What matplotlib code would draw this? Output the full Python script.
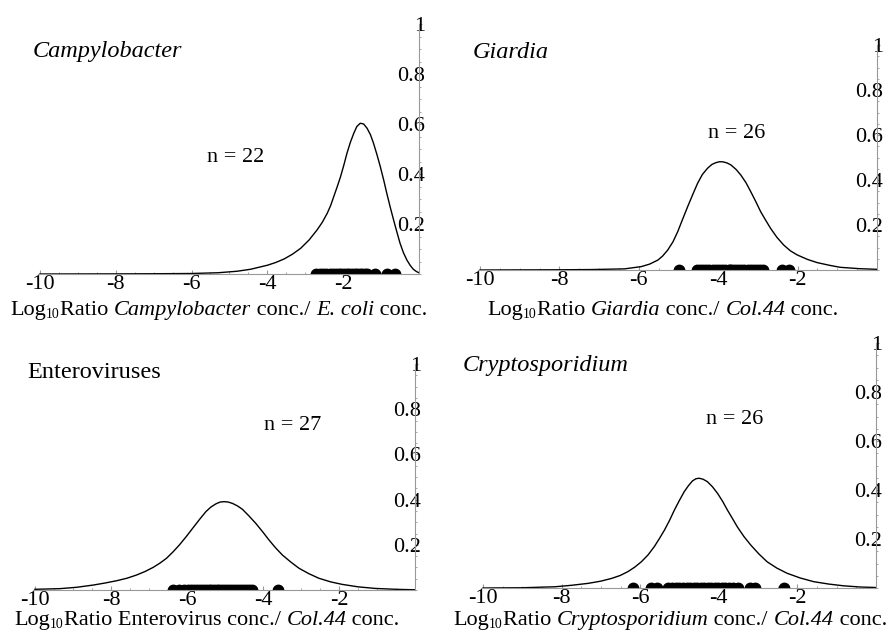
import matplotlib
matplotlib.use("Agg")
import matplotlib.pyplot as plt
from matplotlib.ticker import MultipleLocator

plt.rcParams["font.family"] = "Liberation Serif"

# fitted densities (log10 ratio vs density) and the observed ratios
campy_x = [-10, -8, -7, -6, -5.3, -4.8, -4.44, -4.0, -3.78, -3.56, -3.34, -3.12, -2.9, -2.69, -2.55,
           -2.42, -2.33, -2.25, -2.16, -2.07, -1.98, -1.90, -1.81, -1.72, -1.64, -1.55, -1.46, -1.37,
           -1.28, -1.20, -1.11, -1.02, -0.93, -0.85, -0.76, -0.67, -0.58, -0.50, -0.41, -0.32, -0.23,
           -0.15, -0.07, 0]
campy_y = [0.0, 0.0005, 0.001, 0.002, 0.005, 0.011, 0.019, 0.035, 0.046, 0.060, 0.079, 0.103, 0.136,
           0.176, 0.207, 0.243, 0.274, 0.309, 0.348, 0.389, 0.437, 0.483, 0.527, 0.563, 0.590, 0.603,
           0.600, 0.583, 0.557, 0.523, 0.478, 0.429, 0.375, 0.323, 0.268, 0.216, 0.166, 0.123, 0.085,
           0.056, 0.034, 0.019, 0.010, 0.005]
campy_obs = [-2.73, -2.62, -2.52, -2.44, -2.36, -2.28, -2.2, -2.12, -2.05, -1.98, -1.91,
             -1.84, -1.77, -1.7, -1.63, -1.56, -1.5, -1.43, -1.37, -1.15, -0.84, -0.63]

giard_x = [-10, -8, -7.19, -6.36, -5.94, -5.73, -5.52, -5.40, -5.27, -5.14, -5.02, -4.9, -4.77,
           -4.64, -4.52, -4.4, -4.27, -4.16, -4.06, -3.97, -3.89, -3.78, -3.68, -3.55, -3.43, -3.3,
           -3.18, -3.05, -2.93, -2.8, -2.68, -2.52, -2.35, -2.18, -2.01, -1.75, -1.51, -1.2, -0.93,
           -0.45, 0]
giard_y = [0.0, 0.001, 0.002, 0.005, 0.015, 0.026, 0.044, 0.062, 0.089, 0.125, 0.170, 0.224, 0.281,
           0.336, 0.385, 0.424, 0.452, 0.469, 0.477, 0.481, 0.481, 0.476, 0.467, 0.447, 0.422, 0.388,
           0.348, 0.303, 0.259, 0.220, 0.185, 0.145, 0.111, 0.085, 0.067, 0.047, 0.033, 0.021, 0.012,
           0.006, 0.003]
giard_obs = [-4.98, -4.54, -4.46, -4.38, -4.3, -4.22, -4.14, -4.06, -3.98, -3.9, -3.82, -3.74, -3.66,
             -3.58, -3.5, -3.42, -3.34, -3.26, -3.18, -3.1, -3.02, -2.94, -2.86, -2.39, -2.22, -3.7]

entero_x = [-10, -9.34, -8.9, -8.46, -8.15, -7.85, -7.58, -7.33, -7.1, -6.89, -6.71, -6.54, -6.37,
            -6.20, -6.02, -5.85, -5.67, -5.50, -5.37, -5.24, -5.13, -5.02, -4.91, -4.80, -4.67, -4.54,
            -4.37, -4.19, -4.01, -3.84, -3.67, -3.49, -3.27, -3.05, -2.79, -2.53, -2.22, -1.92, -1.5,
            -1.05, -0.5, 0]
entero_y = [0.003, 0.006, 0.012, 0.022, 0.031, 0.041, 0.052, 0.066, 0.082, 0.100, 0.119, 0.140, 0.168,
            0.199, 0.236, 0.273, 0.312, 0.347, 0.367, 0.381, 0.389, 0.391, 0.389, 0.383, 0.372, 0.357,
            0.328, 0.295, 0.258, 0.221, 0.187, 0.155, 0.124, 0.096, 0.072, 0.052, 0.036, 0.025, 0.014,
            0.007, 0.003, 0.001]
entero_obs = [-6.36, -6.2, -6.08, -5.98, -5.9, -5.82, -5.74, -5.66, -5.58, -5.5, -5.43, -5.36, -5.29,
              -5.22, -5.15, -5.08, -5.0, -4.92, -4.84, -4.76, -4.68, -4.6, -4.52, -4.44, -4.36, -4.29, -3.6]

crypto_x = [-10, -9.01, -8.17, -7.75, -7.32, -7.0, -6.73, -6.51, -6.31, -6.14, -5.97, -5.80, -5.64,
            -5.51, -5.38, -5.25, -5.13, -5.0, -4.88, -4.77, -4.67, -4.58, -4.50, -4.40, -4.29, -4.16,
            -4.03, -3.9, -3.78, -3.65, -3.53, -3.36, -3.19, -2.98, -2.77, -2.52, -2.26, -1.93, -1.59,
            -1.2, -0.83, -0.4, 0]
crypto_y = [0.0, 0.001, 0.005, 0.011, 0.019, 0.028, 0.039, 0.051, 0.067, 0.085, 0.107, 0.135, 0.169,
            0.202, 0.237, 0.277, 0.318, 0.358, 0.393, 0.418, 0.437, 0.446, 0.448, 0.444, 0.434, 0.413,
            0.386, 0.353, 0.318, 0.283, 0.250, 0.210, 0.176, 0.139, 0.107, 0.081, 0.060, 0.041, 0.026,
            0.016, 0.009, 0.004, 0.002]
crypto_obs = [-6.19, -5.72, -5.58, -5.28, -5.18, -5.09, -5.0, -4.91, -4.82, -4.73, -4.64, -4.55, -4.46,
              -4.37, -4.28, -4.19, -4.1, -4.01, -3.92, -3.83, -3.74, -3.63, -3.51, -3.2, -3.07, -2.35]

x_ticks = [-10, -8, -6, -4, -2]
x_ticklabels = ["-10", "-8", "-6", "-4", "-2"]
y_ticks = [0.2, 0.4, 0.6, 0.8, 1.0]
y_ticklabels = ["0.2", "0.4", "0.6", "0.8", "1"]

W, H = 889, 634
fig = plt.figure(figsize=(W / 100, H / 100), dpi=100)
renderer = fig.canvas.get_renderer()


def fpos(x, y):
    return x / W, 1 - y / H


def panel(left, right, top, bottom, xs, ys, obs):
    ax = fig.add_axes([left / W, 1 - bottom / H, (right - left) / W, (bottom - top) / H])
    ax.set_xlim(-10.05, 0)
    ax.set_ylim(0, 1.0)
    ax.patch.set_visible(False)
    for s in ["top", "left"]:
        ax.spines[s].set_visible(False)
    for s in ["bottom", "right"]:
        ax.spines[s].set_color("#999999")
        ax.spines[s].set_linewidth(0.8)
    ax.plot(xs, ys, color="black", lw=1.0)
    ax.plot(obs, [0] * len(obs), "o", color="black", ms=7.5, mec="black", clip_on=True)
    ax.set_xticks(x_ticks)
    ax.set_xticklabels(x_ticklabels)
    ax.xaxis.set_minor_locator(MultipleLocator(0.5))
    ax.tick_params(axis="x", which="major", direction="in", length=3, color="#999999",
                   labelsize=16, pad=1)
    ax.tick_params(axis="x", which="minor", direction="in", length=1.5, color="#999999")
    ax.yaxis.tick_right()
    ax.set_yticks(y_ticks)
    ax.set_yticklabels(y_ticklabels)
    ax.yaxis.set_minor_locator(MultipleLocator(0.05))
    ax.tick_params(axis="y", which="major", direction="out", length=2.5, color="#999999",
                   labelsize=16, pad=2)
    ax.tick_params(axis="y", which="minor", direction="out", length=1.2, color="#999999")
    for lab in ax.get_yticklabels():
        lab.set_horizontalalignment("right")
    return ax


def caption(xc, yb, parts, size=16):
    # lay text pieces side by side on one baseline, centred on xc
    placed = []
    x = 0
    for s, st in parts:
        if st == "sub":
            t = fig.text(0, 0, s, fontsize=size * 0.62, va="baseline", ha="left")
            dy = 3
        else:
            t = fig.text(0, 0, s, style=st, fontsize=size, va="baseline", ha="left")
            dy = 0
        w = t.get_window_extent(renderer).width
        placed.append((t, x, dy))
        x += w
    x0 = xc - x / 2
    for t, off, dy in placed:
        t.set_position(fpos(x0 + off, yb + dy))


panel(38, 419, 24, 274, campy_x, campy_y, campy_obs)
panel(478, 877, 45, 270, giard_x, giard_y, giard_obs)
panel(33, 415, 364, 590, entero_x, entero_y, entero_obs)
panel(481, 876, 343, 588, crypto_x, crypto_y, crypto_obs)

# panel titles
fig.text(*fpos(33, 52), "Campylobacter", style="italic", fontsize=17.5, va="center", ha="left")
fig.text(*fpos(473, 53), "Giardia", style="italic", fontsize=17.5, va="center", ha="left")
fig.text(*fpos(27, 372), "Enteroviruses", fontsize=17.5, va="center", ha="left")
fig.text(*fpos(463, 365), "Cryptosporidium", style="italic", fontsize=17.5, va="center", ha="left")

# sample sizes
fig.text(*fpos(236, 158), "n = 22", fontsize=16, va="center", ha="center")
fig.text(*fpos(737, 133), "n = 26", fontsize=16, va="center", ha="center")
fig.text(*fpos(293, 425), "n = 27", fontsize=16, va="center", ha="center")
fig.text(*fpos(735, 420), "n = 26", fontsize=16, va="center", ha="center")

# axis captions
caption(219, 315, [("Log", "normal"), ("10", "sub"), ("Ratio ", "normal"),
                   ("Campylobacter", "italic"), (" conc./ ", "normal"),
                   ("E. coli", "italic"), (" conc.", "normal")])
caption(663, 315, [("Log", "normal"), ("10", "sub"), ("Ratio ", "normal"),
                   ("Giardia", "italic"), (" conc./ ", "normal"),
                   ("Col.44", "italic"), (" conc.", "normal")])
caption(207, 625, [("Log", "normal"), ("10", "sub"), ("Ratio Enterovirus conc./ ", "normal"),
                   ("Col.44", "italic"), (" conc.", "normal")])
caption(670, 625, [("Log", "normal"), ("10", "sub"), ("Ratio ", "normal"),
                   ("Cryptosporidium", "italic"), (" conc./ ", "normal"),
                   ("Col.44", "italic"), (" conc.", "normal")])

fig.savefig("out.png", dpi=100)
